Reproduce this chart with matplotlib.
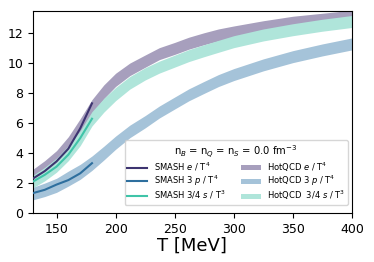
import numpy as np
import matplotlib
matplotlib.use("Agg")
import matplotlib.pyplot as plt

# HotQCD bands
T_lat = [130, 140, 150, 160, 170, 180, 190, 200, 212, 225, 237, 250, 262, 275, 287, 300,
         325, 350, 375, 400]
e_lat = [2.5, 3.05, 3.7, 4.6, 5.8, 7.1, 8.1, 8.9, 9.6, 10.15, 10.65, 11.0, 11.35, 11.65,
         11.9, 12.1, 12.45, 12.75, 12.95, 13.15]
p_lat = [1.3, 1.55, 1.85, 2.3, 2.75, 3.33, 4.0, 4.7, 5.45, 6.1, 6.75, 7.35, 7.9, 8.4,
         8.85, 9.25, 9.9, 10.45, 10.9, 11.3]
s_lat = [2.1, 2.6, 3.2, 4.0, 5.0, 6.3, 7.2, 7.95, 8.7, 9.3, 9.75, 10.15, 10.52, 10.85,
         11.14, 11.45, 11.9, 12.25, 12.55, 12.8]
err_lat = [0.42, 0.45, 0.47, 0.5, 0.5, 0.48, 0.46, 0.44, 0.42, 0.41, 0.4, 0.4, 0.4, 0.4,
           0.4, 0.4, 0.4, 0.4, 0.4, 0.4]

# SMASH lines
T_smash = [130, 140, 150, 160, 170, 180]
e_smash = [2.3, 2.8, 3.45, 4.3, 5.65, 7.33]
p_smash = [1.33, 1.55, 1.9, 2.2, 2.65, 3.33]
s_smash = [2.1, 2.55, 3.1, 3.9, 5.0, 6.3]

c_e = "#3d3470"
c_p = "#2e6f9e"
c_s = "#3fc4a8"

fig, ax = plt.subplots(figsize=(3.74, 2.62), dpi=100)

T = np.array(T_lat)
err = np.array(err_lat)
ax.plot(T_smash, e_smash, color=c_e, lw=1.5, label="SMASH $e$ / T$^4$", zorder=3)
ax.plot(T_smash, p_smash, color=c_p, lw=1.5, label="SMASH 3 $p$ / T$^4$", zorder=3)
ax.plot(T_smash, s_smash, color=c_s, lw=1.5, label="SMASH 3/4 $s$ / T$^3$", zorder=3)
ax.fill_between(T, np.array(e_lat) - err, np.array(e_lat) + err, color="#a79fbd",
                lw=0, label="HotQCD $e$ / T$^4$", zorder=1)
ax.fill_between(T, np.array(p_lat) - err, np.array(p_lat) + err, color="#a5c3d9",
                lw=0, label="HotQCD 3 $p$ / T$^4$", zorder=1)
ax.fill_between(T, np.array(s_lat) - err, np.array(s_lat) + err, color="#afe5da",
                lw=0, label="HotQCD  3/4 $s$ / T$^3$", zorder=1)

ax.set_xlim(130, 400)
ax.set_ylim(0, 13.5)
ax.set_yticks([0, 2, 4, 6, 8, 10, 12])
ax.tick_params(labelsize=9)
ax.set_xlabel("T [MeV]", fontsize=13, labelpad=1)

ax.legend(ncol=2, fontsize=6, title="n$_B$ = n$_Q$ = n$_S$ = 0.0 fm$^{-3}$",
          title_fontsize=7.2, loc="lower right", handlelength=2.4, handleheight=0.6,
          columnspacing=1.8, labelspacing=0.05, borderpad=0.3,
          bbox_to_anchor=(1.0, 0.02))

fig.subplots_adjust(left=0.088, right=0.941, top=0.958, bottom=0.187)
fig.savefig("out.png", dpi=100)
